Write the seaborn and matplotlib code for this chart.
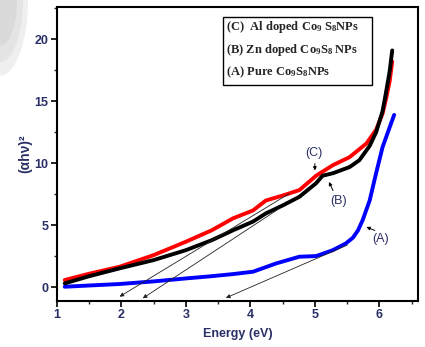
import numpy as np
import pandas as pd
import seaborn as sns
import matplotlib.pyplot as plt
from matplotlib.ticker import MultipleLocator
from matplotlib.patches import Rectangle, Ellipse

# curve data
energy_c = [1.12, 1.5, 1.97, 2.5, 3.0, 3.4, 3.73, 4.04, 4.24, 4.5, 4.76, 5.02, 5.28, 5.54, 5.8, 5.95, 6.05, 6.1, 6.16, 6.2]
alpha_c = [0.59, 1.1, 1.66, 2.6, 3.68, 4.6, 5.56, 6.2, 7.0, 7.4, 7.84, 9.0, 9.85, 10.5, 11.6, 12.7, 14.0, 15.1, 16.6, 18.2]

energy_b = [1.12, 1.5, 1.97, 2.5, 3.0, 3.4, 3.73, 4.04, 4.24, 4.5, 4.76, 5.02, 5.12, 5.28, 5.54, 5.69, 5.85, 5.95, 6.05, 6.1, 6.16, 6.2]
alpha_b = [0.32, 0.9, 1.53, 2.2, 3.0, 3.8, 4.6, 5.3, 5.96, 6.6, 7.3, 8.4, 9.0, 9.2, 9.7, 10.25, 11.4, 12.5, 14.2, 15.6, 17.4, 19.1]

energy_a = [1.12, 1.5, 1.97, 2.5, 3.0, 3.4, 3.73, 4.04, 4.4, 4.76, 5.02, 5.28, 5.48, 5.59, 5.67, 5.74, 5.85, 5.95, 6.05, 6.16, 6.23]
alpha_a = [0.05, 0.15, 0.27, 0.48, 0.72, 0.9, 1.07, 1.26, 1.93, 2.47, 2.52, 3.0, 3.54, 4.0, 4.6, 5.4, 7.0, 9.2, 11.3, 12.9, 13.9]

# tangent line end points (upper end, x-intercept end)
tangent_c = [(4.6, 7.55), (1.97, -0.75)]
tangent_b = [(4.45, 6.36), (2.33, -0.88)]
tangent_a = [(5.5, 3.4), (3.62, -0.85)]

legend_lines = [r"(C)  Al doped Co$_9$ S$_8$NPs",
                r"(B) Zn doped Co$_9$S$_8$ NPs",
                r"(A) Pure Co$_9$S$_8$NPs"]

sns.set_style("white")
plt.rcParams['font.family'] = ['Liberation Sans', 'DejaVu Sans']
plt.rcParams['mathtext.fontset'] = 'custom'
plt.rcParams['mathtext.rm'] = 'Liberation Serif:bold'
plt.rcParams['mathtext.it'] = 'Liberation Serif:bold'
plt.rcParams['mathtext.bf'] = 'Liberation Serif:bold'
txt_col = "#2a2f66"

df = pd.concat([
    pd.DataFrame({"E": energy_c, "y": alpha_c, "s": "C"}),
    pd.DataFrame({"E": energy_b, "y": alpha_b, "s": "B"}),
    pd.DataFrame({"E": energy_a, "y": alpha_a, "s": "A"}),
])

fig = plt.figure(figsize=(4.25, 3.47), dpi=100)

# grey page smudge in the top-left corner
for w, c in [(56, "#efefef"), (46, "#e4e4e4"), (34, "#dadada")]:
    fig.patches.append(Ellipse((0, 1), w / 425, w * 2.7 / 347, transform=fig.transFigure,
                               fc=c, ec="none", zorder=-1))

ax = fig.add_axes([57/425, 46/347, 361/425, 294/347])

sns.lineplot(data=df, x="E", y="y", hue="s", sort=False, estimator=None,
             palette={"C": "#ff0000", "B": "#000000", "A": "#0000ff"},
             hue_order=["C", "A", "B"], linewidth=2.8, legend=False, ax=ax)

for tl in [tangent_c, tangent_b, tangent_a]:
    ax.annotate("", xy=tl[1], xytext=tl[0],
                arrowprops=dict(arrowstyle="-|>", color="#222222", lw=0.6,
                                mutation_scale=6, shrinkA=0, shrinkB=0))

# curve labels
lab_kw = dict(fontsize=9, color=txt_col, ha="center", va="center")
ax.text(4.99, 10.8, "(C)", **lab_kw)
ax.annotate("", xy=(5.0, 9.2), xytext=(5.0, 10.2),
            arrowprops=dict(arrowstyle="-|>", color="black", lw=0.7, mutation_scale=5))
ax.text(5.36, 7.0, "(B)", **lab_kw)
ax.annotate("", xy=(5.2, 8.7), xytext=(5.3, 7.6),
            arrowprops=dict(arrowstyle="-|>", color="black", lw=0.7, mutation_scale=5))
ax.text(6.02, 3.9, "(A)", **lab_kw)
ax.annotate("", xy=(5.76, 4.95), xytext=(5.97, 4.5),
            arrowprops=dict(arrowstyle="-|>", color="black", lw=0.7, mutation_scale=5))

# legend box
ax.add_patch(Rectangle((0.46, 0.735), 0.413, 0.231, transform=ax.transAxes,
                       fc="white", ec="black", lw=1.0, zorder=5))
for yy, line in zip([0.932, 0.854, 0.779], legend_lines):
    ax.text(0.468, yy, line, transform=ax.transAxes, fontsize=9, fontweight="bold",
            family=["Liberation Serif", "DejaVu Serif"], va="center", ha="left", zorder=6)

ax.set_xlim(1, 6.6)
ax.set_ylim(-1.1, 22.6)
ax.xaxis.set_major_locator(MultipleLocator(1))
ax.xaxis.set_minor_locator(MultipleLocator(0.5))
ax.yaxis.set_major_locator(MultipleLocator(5))
ax.yaxis.set_minor_locator(MultipleLocator(2.5))
ax.tick_params(which="major", direction="out", length=4, width=1.2, colors="black",
               labelcolor=txt_col, labelsize=9, bottom=True, left=True, pad=2)
ax.tick_params(which="minor", direction="out", length=2.5, width=1.0, bottom=True, left=True)
for lab in ax.get_xticklabels() + ax.get_yticklabels():
    lab.set_fontweight("bold")
for sp in ax.spines.values():
    sp.set_color("black")
    sp.set_linewidth(1.5)

ax.set_xlabel("Energy (eV)", fontsize=9, fontweight="bold", color=txt_col, labelpad=5)
ax.set_ylabel("(αhν)²", fontsize=10, fontweight="bold", color=txt_col, labelpad=2)

fig.savefig("out.png", dpi=100)
